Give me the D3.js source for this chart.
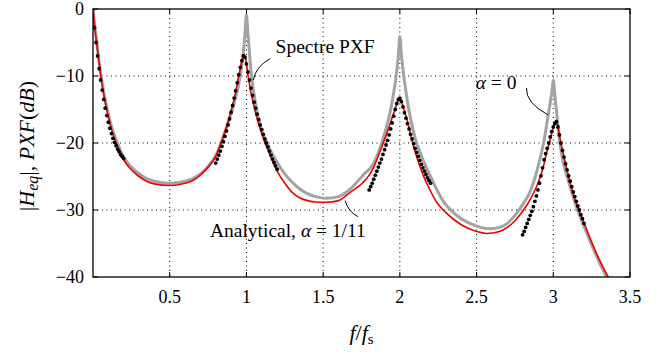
<!DOCTYPE html>
<html>
<head>
<meta charset="utf-8">
<script src="https://cdn.jsdelivr.net/npm/d3@7"></script>
<style>
	body { margin: 0; background: #fff; }
	svg { display: block; }
</style>
</head>
<body>
<div id="vis"></div>
<script>

// axis ticks
var xTicks = [0.5, 1, 1.5, 2, 2.5, 3, 3.5];
var yTicks = [0, -10, -20, -30, -40];

// alpha = 0 (grey curve)
var grayF = [0, 0.01, 0.02, 0.03, 0.05, 0.075, 0.1, 0.125, 0.15, 0.175, 0.2, 0.25, 0.3, 0.35, 0.4, 0.5,
	0.6, 0.65, 0.7, 0.75, 0.8, 0.85, 0.9, 0.93, 0.95, 0.97, 0.98, 0.99, 1.0, 1.01, 1.02, 1.03, 1.05,
	1.075, 1.1, 1.135, 1.15, 1.2, 1.25, 1.3, 1.35, 1.4, 1.45, 1.52, 1.6, 1.67, 1.76, 1.83, 1.89, 1.95,
	1.98, 1.99, 2.0, 2.01, 2.02, 2.04, 2.065, 2.1, 2.13, 2.2, 2.28, 2.35, 2.4, 2.5, 2.59, 2.65, 2.7,
	2.75, 2.8, 2.85, 2.9, 2.94, 2.97, 2.99, 3.0, 3.01, 3.02, 3.043, 3.07, 3.1, 3.158, 3.2, 3.25, 3.3, 3.347];
var grayDb = [-0.2, -2.3, -4.1, -6.0, -9.6, -13.0, -15.7, -17.9, -19.5, -20.9, -22.1, -23.6, -24.6, -25.3, -25.7, -26.0,
	-25.7, -25.3, -24.6, -23.5, -21.9, -19.0, -15.6, -13.2, -11.2, -8.3, -6.4, -3.9, -0.9, -3.8, -6.6, -9.3, -12.8,
	-16.0, -18.2, -20.0, -20.8, -22.9, -24.6, -25.9, -26.9, -27.6, -28.0, -28.25, -28.0, -27.0, -24.8, -23.0, -19.4, -13.8,
	-9.2, -7.0, -4.1, -6.8, -8.9, -12.4, -15.8, -19.3, -21.3, -25.0, -28.6, -30.4, -31.3, -32.4, -32.8, -32.6, -32.0,
	-30.8, -29.2, -27.2, -23.6, -19.6, -15.4, -12.5, -10.6, -12.8, -15.0, -20.0, -23.4, -25.8, -30.0, -32.4, -35.2, -37.8, -40];

// analytical, alpha = 1/11 (red curve)
var redF = [0.003, 0.01, 0.02, 0.03, 0.05, 0.075, 0.1, 0.125, 0.15, 0.175, 0.2, 0.25, 0.3, 0.35, 0.4, 0.5,
	0.6, 0.65, 0.7, 0.75, 0.8, 0.825, 0.85, 0.875, 0.9, 0.925, 0.95, 0.965, 0.985, 0.995, 1.011, 1.03, 1.05,
	1.075, 1.1, 1.125, 1.15, 1.2, 1.25, 1.3, 1.35, 1.4, 1.45, 1.52, 1.6, 1.674, 1.76, 1.8, 1.83, 1.87, 1.91,
	1.956, 1.98, 2.0, 2.02, 2.044, 2.087, 2.12, 2.152, 2.2, 2.239, 2.3, 2.4, 2.5, 2.565, 2.65, 2.7, 2.75, 2.8,
	2.85, 2.9, 2.93, 2.956, 2.98, 3.0, 3.02, 3.035, 3.05, 3.075, 3.1, 3.15, 3.2, 3.25, 3.3, 3.358];
var redDb = [-0.5, -2.5, -4.4, -6.3, -9.9, -13.4, -16.1, -18.3, -19.9, -21.3, -22.5, -24.0, -25.0, -25.7, -26.1, -26.35,
	-26.0, -25.6, -24.8, -23.6, -22.0, -20.6, -19.0, -17.2, -15.2, -12.9, -10.0, -8.3, -6.9, -7.5, -10.0, -12.5, -14.6,
	-16.8, -18.6, -20.2, -21.6, -24.2, -26.0, -27.4, -28.2, -28.6, -28.8, -28.85, -28.6, -27.4, -25.9, -24.8, -23.6, -21.3, -18.9,
	-15.8, -14.2, -13.3, -14.5, -16.3, -20.3, -22.8, -24.8, -27.2, -28.8, -30.4, -32.2, -33.2, -33.5, -33.2, -32.6, -31.6, -30.2,
	-28.4, -26.0, -24.0, -21.5, -19.5, -17.6, -16.6, -18.2, -20.0, -22.6, -25.0, -29.0, -31.9, -34.8, -37.4, -40];

// spectre PXF (black dots), four bands around the resonances
var pxfF1 = [0, 0.01, 0.02, 0.03, 0.04, 0.05, 0.06, 0.07, 0.08, 0.09, 0.1, 0.11, 0.12, 0.13, 0.14, 0.15, 0.16, 0.17, 0.18, 0.19, 0.2];
var pxfDb1 = [0, -2.8, -5.0, -7.0, -8.9, -10.6, -12.1, -13.5, -14.8, -15.9, -16.9, -17.8, -18.6, -19.3, -19.9, -20.4, -20.9, -21.3, -21.7, -22.0, -22.3];

var pxfF2 = [0.8, 0.81, 0.82, 0.83, 0.84, 0.85, 0.86, 0.87, 0.88, 0.89, 0.9, 0.91, 0.92, 0.93, 0.94, 0.95, 0.96, 0.97, 0.98, 0.99, 1.0,
	1.01, 1.02, 1.03, 1.04, 1.05, 1.06, 1.07, 1.08, 1.09, 1.1, 1.11, 1.12, 1.13, 1.14, 1.15, 1.16, 1.17, 1.18, 1.19, 1.2];
var pxfDb2 = [-23.0, -22.4, -21.8, -21.2, -20.5, -19.8, -19.0, -18.2, -17.3, -16.4, -15.4, -14.4, -13.3, -12.2, -11.0, -9.8, -8.7, -7.7, -7.0, -7.2, -8.2,
	-9.4, -10.6, -11.8, -12.9, -13.9, -14.8, -15.7, -16.5, -17.3, -18.0, -18.7, -19.4, -20.0, -20.6, -21.2, -21.8, -22.4, -22.9, -23.4, -23.9];

var pxfF3 = [1.8, 1.81, 1.82, 1.83, 1.84, 1.85, 1.86, 1.87, 1.88, 1.89, 1.9, 1.91, 1.92, 1.93, 1.94, 1.95, 1.96, 1.97, 1.98, 1.99, 2.0,
	2.01, 2.02, 2.03, 2.04, 2.05, 2.06, 2.07, 2.08, 2.09, 2.1, 2.11, 2.12, 2.13, 2.14, 2.15, 2.16, 2.17, 2.18, 2.19, 2.2];
var pxfDb3 = [-27.0, -26.5, -26.0, -25.4, -24.8, -24.2, -23.6, -23.0, -22.4, -21.7, -21.0, -20.3, -19.6, -18.8, -17.9, -17.0, -16.0, -15.0, -14.1, -13.5, -13.3,
	-13.8, -14.6, -15.5, -16.3, -17.1, -17.9, -18.7, -19.4, -20.1, -20.8, -21.4, -22.0, -22.6, -23.2, -23.7, -24.2, -24.7, -25.2, -25.6, -26.0];

var pxfF4 = [2.8, 2.81, 2.82, 2.83, 2.84, 2.85, 2.86, 2.87, 2.88, 2.89, 2.9, 2.91, 2.92, 2.93, 2.94, 2.95, 2.96, 2.97, 2.98, 2.99, 3.0,
	3.01, 3.02, 3.03, 3.04, 3.05, 3.06, 3.07, 3.08, 3.09, 3.1, 3.11, 3.12, 3.13, 3.14, 3.15, 3.16, 3.17, 3.18, 3.19, 3.2];
var pxfDb4 = [-33.7, -33.2, -32.6, -32.0, -31.4, -30.8, -30.2, -29.5, -28.7, -27.9, -27.0, -26.0, -24.9, -23.7, -22.5, -21.6, -20.8, -20.0, -19.1, -18.3, -17.6,
	-17.1, -16.8, -17.6, -18.8, -20.0, -21.1, -22.1, -23.1, -24.0, -24.9, -25.7, -26.5, -27.3, -28.0, -28.7, -29.4, -30.0, -30.7, -31.3, -32.0];

var serif = "'Liberation Serif', 'DejaVu Serif', serif";

// set margins to the graph
var margin = {top: 9, right: 34, bottom: 79, left: 93};
var width = 664 - margin.left - margin.right;
var height = 356 - margin.top - margin.bottom;

var svg = d3.select("#vis")
	.append("svg")
	.attr("width", 664)
	.attr("height", 356);

var g = svg.append("g")
	.attr("transform", "translate(" + margin.left + "," + margin.top + ")");

var x = d3.scaleLinear().domain([0, 3.5]).range([0, width]);
var y = d3.scaleLinear().domain([-40, 0]).range([height, 0]);

function zip(fs, dbs) {
	return fs.map(function(f, i) { return {f: f, db: dbs[i]}; });
}

// dotted grid
g.append("g")
	.selectAll("line")
	.data(xTicks.filter(function(d) { return d < 3.5; }))
	.enter()
	.append("line")
	.attr("x1", function(d) { return x(d); })
	.attr("x2", function(d) { return x(d); })
	.attr("y1", 0)
	.attr("y2", height)
	.attr("stroke", "#000")
	.attr("stroke-width", 1)
	.attr("stroke-dasharray", "1,3.5");

g.append("g")
	.selectAll("line")
	.data(yTicks.filter(function(d) { return d < 0 && d > -40; }))
	.enter()
	.append("line")
	.attr("x1", 0)
	.attr("x2", width)
	.attr("y1", function(d) { return y(d); })
	.attr("y2", function(d) { return y(d); })
	.attr("stroke", "#000")
	.attr("stroke-width", 1)
	.attr("stroke-dasharray", "1,3.5");

// curves, clipped to the plot box
svg.append("defs").append("clipPath")
	.attr("id", "clip")
	.append("rect")
	.attr("width", width)
	.attr("height", height + 1);

var line = d3.line()
	.x(function(d) { return x(d.f); })
	.y(function(d) { return y(d.db); })
	.curve(d3.curveMonotoneX);

var plot = g.append("g").attr("clip-path", "url(#clip)");

plot.append("path")
	.attr("d", line(zip(grayF, grayDb)))
	.attr("fill", "none")
	.attr("stroke", "#a3a3a3")
	.attr("stroke-width", 3);

plot.append("path")
	.attr("d", line(zip(redF, redDb)))
	.attr("fill", "none")
	.attr("stroke", "#f00000")
	.attr("stroke-width", 1.6);

var pxf = zip(pxfF1, pxfDb1)
	.concat(zip(pxfF2, pxfDb2))
	.concat(zip(pxfF3, pxfDb3))
	.concat(zip(pxfF4, pxfDb4));

plot.selectAll(".dot")
	.data(pxf)
	.enter()
	.append("circle")
	.attr("class", "dot")
	.attr("cx", function(d) { return x(d.f); })
	.attr("cy", function(d) { return y(d.db); })
	.attr("r", 1.9)
	.attr("fill", "#000");

// frame and inward ticks on all four sides
g.append("rect")
	.attr("width", width)
	.attr("height", height)
	.attr("fill", "none")
	.attr("stroke", "#000")
	.attr("stroke-width", 1.3);

var tickLen = 5;
xTicks.forEach(function(d) {
	g.append("line").attr("x1", x(d)).attr("x2", x(d)).attr("y1", height).attr("y2", height - tickLen)
		.attr("stroke", "#000");
	g.append("line").attr("x1", x(d)).attr("x2", x(d)).attr("y1", 0).attr("y2", tickLen)
		.attr("stroke", "#000");
});
yTicks.forEach(function(d) {
	g.append("line").attr("x1", 0).attr("x2", tickLen).attr("y1", y(d)).attr("y2", y(d))
		.attr("stroke", "#000");
	g.append("line").attr("x1", width).attr("x2", width - tickLen).attr("y1", y(d)).attr("y2", y(d))
		.attr("stroke", "#000");
});

// tick labels
g.selectAll(".xlab")
	.data(xTicks)
	.enter()
	.append("text")
	.attr("x", function(d) { return x(d); })
	.attr("y", height + 26)
	.attr("text-anchor", "middle")
	.style("font-family", serif)
	.style("font-size", "18px")
	.text(function(d) { return d3.format("~g")(d); });

g.selectAll(".ylab")
	.data(yTicks)
	.enter()
	.append("text")
	.attr("x", -9)
	.attr("y", function(d) { return y(d) + 6; })
	.attr("text-anchor", "end")
	.style("font-family", serif)
	.style("font-size", "18px")
	.text(function(d) { return d3.format("d")(d); });

// axis titles
var xTitle = g.append("text")
	.attr("x", x(1.75))
	.attr("y", height + 63)
	.attr("text-anchor", "middle")
	.style("font-family", serif)
	.style("font-size", "22px")
	.style("font-style", "italic");
xTitle.append("tspan").text("f");
xTitle.append("tspan").style("font-style", "normal").text("/");
xTitle.append("tspan").text("f");
xTitle.append("tspan").attr("dy", 4).style("font-size", "15px").style("font-style", "normal").text("s");

var yTitle = svg.append("text")
	.attr("transform", "translate(34,146) rotate(-90)")
	.attr("text-anchor", "middle")
	.style("font-family", serif)
	.style("font-size", "22px");
yTitle.append("tspan").text("|");
yTitle.append("tspan").style("font-style", "italic").text("H");
yTitle.append("tspan").attr("dy", 4).style("font-style", "italic").style("font-size", "16px").text("eq");
yTitle.append("tspan").attr("dy", -4).text("|, ");
yTitle.append("tspan").style("font-style", "italic").text("PXF");
yTitle.append("tspan").text("(");
yTitle.append("tspan").style("font-style", "italic").text("dB");
yTitle.append("tspan").text(")");

// annotations with leader lines
function leader(p0, c, p1) {
	var path = d3.path();
	path.moveTo(x(p0[0]), y(p0[1]));
	path.quadraticCurveTo(x(c[0]), y(c[1]), x(p1[0]), y(p1[1]));
	g.append("path")
		.attr("d", path.toString())
		.attr("fill", "none")
		.attr("stroke", "#000")
		.attr("stroke-width", 1);
}

function note(fx, db, anchor) {
	return g.append("text")
		.attr("x", x(fx))
		.attr("y", y(db))
		.attr("text-anchor", anchor)
		.style("font-family", serif)
		.style("font-size", "19.5px");
}

note(1.19, -6.6, "start").text("Spectre PXF");
leader([1.155, -7.4], [1.06, -8.6], [1.045, -10.6]);

var alphaNote = note(2.627, -11.9, "middle");
alphaNote.append("tspan").style("font-style", "italic").text("α");
alphaNote.append("tspan").text(" = 0");
leader([2.825, -11.8], [2.82, -14.0], [2.965, -15.8]);

var anNote = note(0.762, -34, "start").text("Analytical, ");
anNote.append("tspan").style("font-style", "italic").text("α");
anNote.append("tspan").text(" = 1/11");
leader([1.643, -28.6], [1.665, -30.3], [1.728, -31.0]);

</script>
</body>
</html>
